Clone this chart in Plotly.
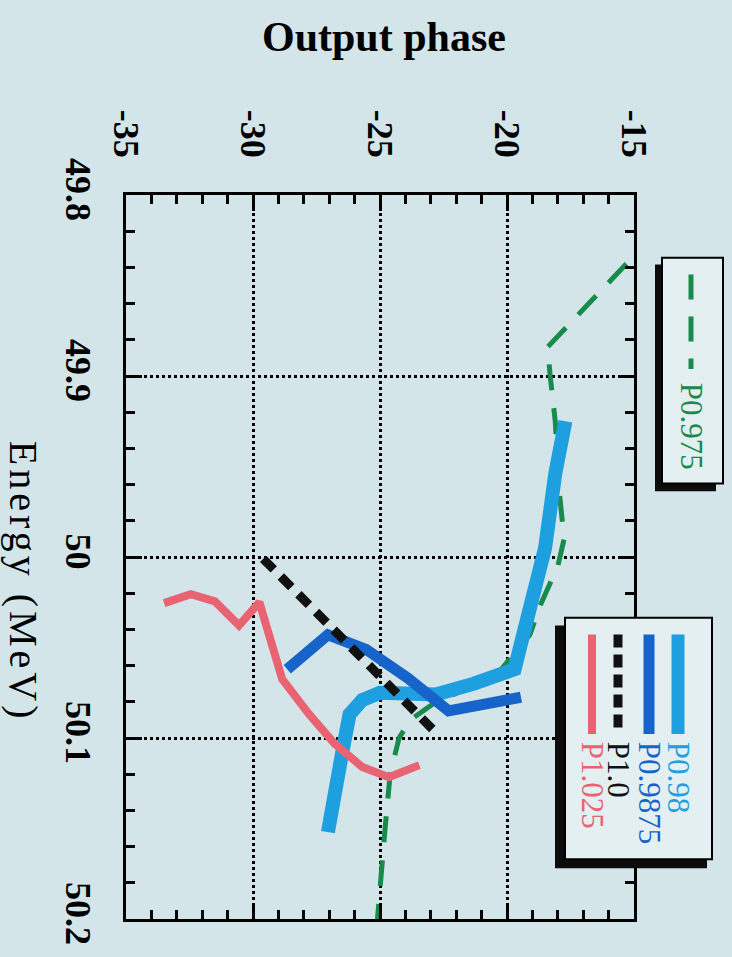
import plotly.graph_objects as go

# ---------------- data ----------------
phase_ticks = [-35, -30, -25, -20, -15]
phase_labels = ["-35", "-30", "-25", "-20", "-15"]
energy_ticks = [49.8, 49.9, 50.0, 50.1, 50.2]
energy_labels = ["49.8", "49.9", "50", "50.1", "50.2"]

p0975_phase = [-15.3, -18.4, -18.3, -18.1, -17.95, -17.75, -18.0, -18.7, -19.1, -19.9, -20.4, -22.9, -23.8, -24.25, -24.6, -24.8, -25.1]
p0975_energy = [49.838, 49.884, 49.900, 49.925, 49.963, 49.990, 50.005, 50.027, 50.043, 50.057, 50.065, 50.081, 50.090, 50.100, 50.120, 50.150, 50.200]

p098_phase = [-27.05, -26.8, -26.5, -26.2, -25.7, -25.0, -24.0, -22.8, -21.3, -20.5, -19.7, -19.4, -18.95, -18.5, -18.1, -17.9, -17.7]
p098_energy = [50.152, 50.129, 50.109, 50.087, 50.079, 50.075, 50.076, 50.076, 50.070, 50.066, 50.062, 50.045, 50.017, 49.995, 49.954, 49.939, 49.925]

p09875_phase = [-28.65, -27.05, -25.55, -23.9, -22.3, -21.3, -19.45]
p09875_energy = [50.062, 50.043, 50.051, 50.067, 50.085, 50.082, 50.0775]

p10_phase = [-29.6, -27.3, -25.1, -22.8]
p10_energy = [50.001, 50.033, 50.064, 50.097]

p1025_phase = [-33.5, -32.45, -31.5, -30.55, -29.75, -28.85, -27.8, -26.8, -25.7, -24.65, -23.45]
p1025_energy = [50.0255, 50.0205, 50.0245, 50.0378, 50.025, 50.0675, 50.0867, 50.103, 50.116, 50.1217, 50.115]

# ---------------- styles ----------------
BG = "#d3e5e9"
FACE = "#e3eff1"
GREEN = "#188a4c"
CYAN = "#1d9fe0"
BLUE = "#1663c9"
BLACK = "#111111"
RED = "#ea6373"

W, H = 732, 957
L, R, T, B = 126, 98, 195, 34
PW, PH = W - L - R, H - T - B


def px(x):
    return (x - L) / PW


def py(y):
    return (H - B - y) / PH


fig = go.Figure()
fig.add_trace(go.Scatter(x=p0975_phase, y=p0975_energy, mode="lines", name="P0.975",
                         line=dict(color=GREEN, width=5, dash="26px,18px")))
fig.add_trace(go.Scatter(x=p098_phase, y=p098_energy, mode="lines", name="P0.98",
                         line=dict(color=CYAN, width=14)))
fig.add_trace(go.Scatter(x=p09875_phase, y=p09875_energy, mode="lines", name="P0.9875",
                         line=dict(color=BLUE, width=11)))
fig.add_trace(go.Scatter(x=p10_phase, y=p10_energy, mode="lines", name="P1.0",
                         line=dict(color=BLACK, width=9, dash="15px,10px")))
fig.add_trace(go.Scatter(x=p1025_phase, y=p1025_energy, mode="lines", name="P1.025",
                         line=dict(color=RED, width=8)))

tickfont = dict(family="Liberation Serif", size=36, color="black", weight="bold")
axis_common = dict(
    ticks="inside", ticklen=16, tickwidth=2.5, tickcolor="black",
    showline=True, linewidth=2.5, linecolor="black", mirror="ticks",
    showgrid=True, gridcolor="black", gridwidth=2.5, griddash="dot",
    zeroline=False, tickangle=90, tickfont=tickfont,
)
fig.update_xaxes(range=[-35, -15], side="top", tickmode="array", tickvals=phase_ticks,
                 ticktext=phase_labels, ticklabelstandoff=22,
                 minor=dict(dtick=1, ticks="inside", ticklen=9, tickwidth=2.5,
                            tickcolor="black", showgrid=False),
                 **axis_common)
fig.update_yaxes(range=[50.2, 49.8], tickmode="array", tickvals=energy_ticks,
                 ticktext=energy_labels, ticklabelstandoff=14,
                 minor=dict(dtick=0.02, ticks="inside", ticklen=9, tickwidth=2.5,
                            tickcolor="black", showgrid=False),
                 **axis_common)

shapes = []
annotations = []


def legend_box(sx0, sy0, sx1, sy1, fx0, fy0, fx1, fy1):
    shapes.append(dict(type="rect", xref="paper", yref="paper", layer="above",
                       x0=px(sx0), x1=px(sx1), y0=py(sy0), y1=py(sy1),
                       fillcolor="#0c0c0c", line=dict(width=0)))
    shapes.append(dict(type="rect", xref="paper", yref="paper", layer="above",
                       x0=px(fx0), x1=px(fx1), y0=py(fy0), y1=py(fy1),
                       fillcolor=FACE, line=dict(color="black", width=2)))


def legend_entry(x, y0, y1, color, width, dash, label, ty):
    shapes.append(dict(type="line", xref="paper", yref="paper", layer="above",
                       x0=px(x), x1=px(x), y0=py(y0), y1=py(y1),
                       line=dict(color=color, width=width, dash=dash)))
    annotations.append(dict(xref="paper", yref="paper", x=px(x), y=py(ty),
                            text=label, showarrow=False, textangle=90,
                            xanchor="center", yanchor="middle",
                            font=dict(family="Liberation Serif", size=31, color=color)))


# legend 1
legend_box(655, 265, 716, 493, 662, 258, 723, 485)
legend_entry(691, 275, 370, GREEN, 5, "25px,17px", "P0.975", 427)
# legend 2
legend_box(555, 628, 707, 872, 565, 620, 712, 863)
legend_entry(678, 637, 737, CYAN, 13, "solid", "P0.98", 781)
legend_entry(649, 637, 737, BLUE, 11, "solid", "P0.9875", 796)
legend_entry(618, 637, 737, BLACK, 9, "13px,7px", "P1.0", 773)
legend_entry(592, 637, 737, RED, 8, "solid", "P1.025", 788)

# axis titles
annotations.append(dict(xref="paper", yref="paper", x=px(384), y=py(36),
                        text="Output phase", showarrow=False,
                        xanchor="center", yanchor="middle",
                        font=dict(family="Liberation Serif", size=42, color="black", weight="bold")))
annotations.append(dict(xref="paper", yref="paper", x=px(23), y=py(584),
                        text='<span style="letter-spacing:4px">Energy (MeV)</span>',
                        showarrow=False, textangle=90,
                        xanchor="center", yanchor="middle",
                        font=dict(family="Liberation Serif", size=40, color="black")))

fig.update_layout(
    width=W, height=H,
    margin=dict(l=L, r=R, t=T, b=B),
    paper_bgcolor=BG, plot_bgcolor=BG,
    showlegend=False,
    shapes=shapes, annotations=annotations,
)

fig.write_html("out.html", config={"displayModeBar": False},
               post_script="document.body.style.margin='0';document.body.style.background='" + BG + "';")
